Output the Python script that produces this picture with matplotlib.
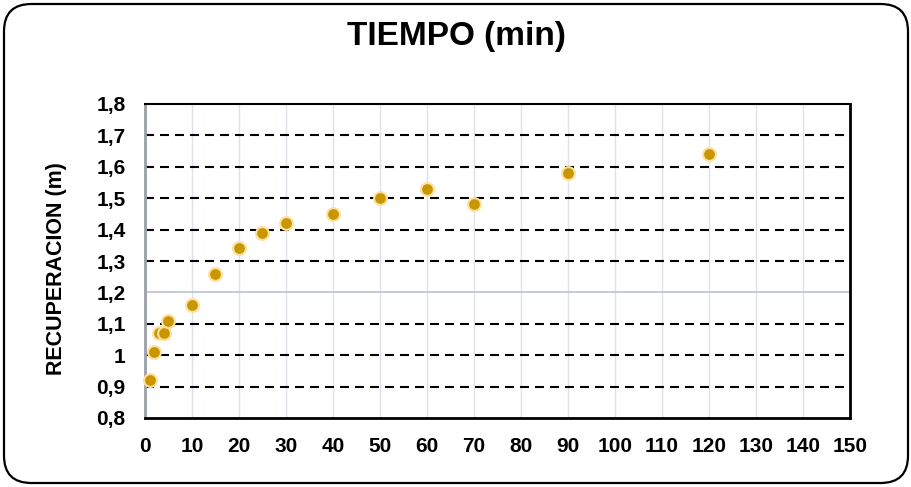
import numpy as np
import matplotlib.pyplot as plt
from matplotlib.patches import FancyBboxPatch

# tiempo de recuperacion (min) vs recuperacion (m)
tiempo = [1, 2, 3, 4, 5, 10, 15, 20, 25, 30, 40, 50, 60, 70, 90, 120]
recuperacion = [0.92, 1.01, 1.07, 1.07, 1.11, 1.16, 1.26, 1.34, 1.39, 1.42,
                1.45, 1.50, 1.53, 1.48, 1.58, 1.64]

x_ticks = list(range(0, 151, 10))
y_ticks = [0.8, 0.9, 1.0, 1.1, 1.2, 1.3, 1.4, 1.5, 1.6, 1.7, 1.8]
y_labels = ['0,8', '0,9', '1', '1,1', '1,2', '1,3', '1,4', '1,5', '1,6', '1,7', '1,8']

plt.rcParams['font.family'] = ['Liberation Sans', 'DejaVu Sans']

fig = plt.figure(figsize=(9.12, 4.87), dpi=100)
ax = fig.add_axes([145/912, 1 - 418/487, 705/912, 314/487])

# marco redondeado del grafico
marco = FancyBboxPatch((4/912, 4/487), 904/912, 479/487,
                       boxstyle='round,pad=0,rounding_size=0.03',
                       transform=fig.transFigure, fill=False,
                       edgecolor='black', linewidth=1.6, mutation_aspect=912/487)
fig.patches.append(marco)

ax.set_xlim(0, 150)
ax.set_ylim(0.8, 1.8)

# lineas verticales suaves
for xv in x_ticks[1:-1]:
    ax.axvline(xv, color='#dde1e8', linewidth=1.0, zorder=1)

# lineas horizontales: punteadas negras, la de 1,2 gris continua
for yv in y_ticks[1:-1]:
    if abs(yv - 1.2) < 1e-9:
        ax.axhline(yv, color='#b8c2d0', linewidth=1.2, zorder=1)
    else:
        ax.axhline(yv, color='black', linewidth=1.5, linestyle=(0, (4.3, 2.9)), zorder=1)

ax.scatter(tiempo, recuperacion, s=85, color='#c89600', edgecolors='#ffdf9e',
           linewidths=1.5, zorder=3, clip_on=False)

ax.set_xticks(x_ticks)
ax.set_xticklabels([str(v) for v in x_ticks], fontsize=15, fontweight='bold')
ax.set_yticks(y_ticks)
ax.set_yticklabels(y_labels, fontsize=15, fontweight='bold')
ax.tick_params(axis='x', length=0, pad=14)
ax.tick_params(axis='y', length=0, pad=14)

for lado in ['top', 'right', 'bottom']:
    ax.spines[lado].set_color('black')
    ax.spines[lado].set_linewidth(2)
ax.spines['top'].set_linewidth(1.5)
ax.spines['left'].set_color('#9aa0a8')
ax.spines['left'].set_linewidth(2)

fig.text(57/912, 1 - 269/487, 'RECUPERACION (m)', rotation=90, ha='center',
         va='center', fontsize=15.5, fontweight='bold')
fig.text(0.5, 1 - 37/487, 'TIEMPO (min)', ha='center', va='center',
         fontsize=24, fontweight='bold')

fig.savefig('out.png', dpi=100)
